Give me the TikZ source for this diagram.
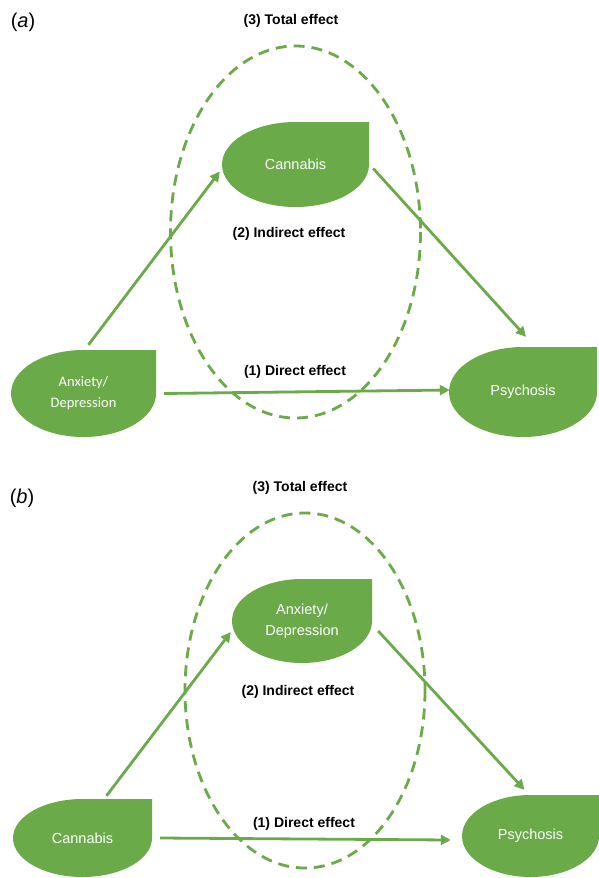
\documentclass[tikz,border=0pt]{standalone}
\usepackage{fontspec}
\setmainfont{Liberation Sans}
\newfontfamily\calfont{Carlito}
\usepackage{tikz}
\usetikzlibrary{positioning,calc,arrows.meta}
\definecolor{effgreen}{RGB}{107,170,72}

\begin{document}
\begin{tikzpicture}[x=1pt,y=-1pt,
    leaf/.style 2 args={minimum width=#1, minimum height=#2, inner sep=0pt,
        text=white, align=center, font=\fontsize{14.5}{20.5}\selectfont,
        path picture={\fill[effgreen]
            let \p1=(path picture bounding box.south west),
                \p2=(path picture bounding box.north east) in
            (path picture bounding box.north) -- (\p2)
            -- (path picture bounding box.east)
            arc[start angle=0, end angle=-270,
                x radius={(\x2-\x1)/2}, y radius={(\y2-\y1)/2}] -- cycle;}},
    effect/.style={font=\bfseries\fontsize{14}{16}\selectfont},
    panel/.style={font=\fontsize{20}{22}\selectfont},
    link/.style={draw=effgreen, line width=2.8pt, -{Triangle[length=10pt,width=10pt]}},
    totalring/.style={draw=effgreen, line width=2.8pt, dash pattern=on 11pt off 7pt}]
    \useasboundingbox (0,0) rectangle (599,878);

    % (a) anxiety -> cannabis -> psychosis
    \node[panel] (pa) at (23,22) {(\textit{a})};
    \draw[totalring] (295.5,232) ellipse [x radius=125, y radius=186];
    \node[effect] (tot1) at (291,21) {(3) Total effect};
    \node[effect] (ind1) at (289,234) {(2) Indirect effect};
    \node[effect] (dir1) at (295,372) {(1) Direct effect};

    \node[leaf={147pt}{85pt}] (can1) at (295.5,164.5) {Cannabis};
    \node[leaf={145pt}{87pt}, font=\calfont\fontsize{14.5}{21}\selectfont] (anx1) at (83.5,393.5) {Anxiety/\\Depression};
    \node[leaf={148pt}{90pt}] (psy1) at (523,392) {Psychosis};

    \draw[link] ([xshift=5pt,yshift=5pt]anx1.north) -- ([xshift=-2pt,yshift=-7pt]can1.west);
    \draw[link] ([xshift=4pt,yshift=-4pt]can1.east) -- ([xshift=3pt,yshift=10pt]psy1.north);
    \draw[link] ([xshift=8pt]anx1.east) -- ([xshift=1pt,yshift=2pt]psy1.west);

    % (b) cannabis -> anxiety -> psychosis
    \node[panel] (pb) at (22,498) {(\textit{b})};
    \draw[totalring] (305,690.5) ellipse [x radius=120, y radius=177.5];
    \node[effect] (tot2) at (300,488) {(3) Total effect};
    \node[effect] (ind2) at (298,692) {(2) Indirect effect};
    \node[effect] (dir2) at (304,824) {(1) Direct effect};

    \node[leaf={140pt}{84pt}] (anx2) at (302,621) {Anxiety/\\Depression};
    \node[leaf={139pt}{78pt}] (can2) at (82.5,838) {Cannabis};
    \node[leaf={137pt}{82pt}] (psy2) at (530.5,836) {Psychosis};

    \draw[link] ([xshift=24pt,yshift=3pt]can2.north) -- ([xshift=-1pt,yshift=-11pt]anx2.west);
    \draw[link] ([xshift=6pt,yshift=-10pt]anx2.east) -- ([xshift=-6pt,yshift=5pt]psy2.north);
    \draw[link] ([xshift=8pt]can2.east) -- ([xshift=-11pt,yshift=-4pt]psy2.west);
\end{tikzpicture}
\end{document}
